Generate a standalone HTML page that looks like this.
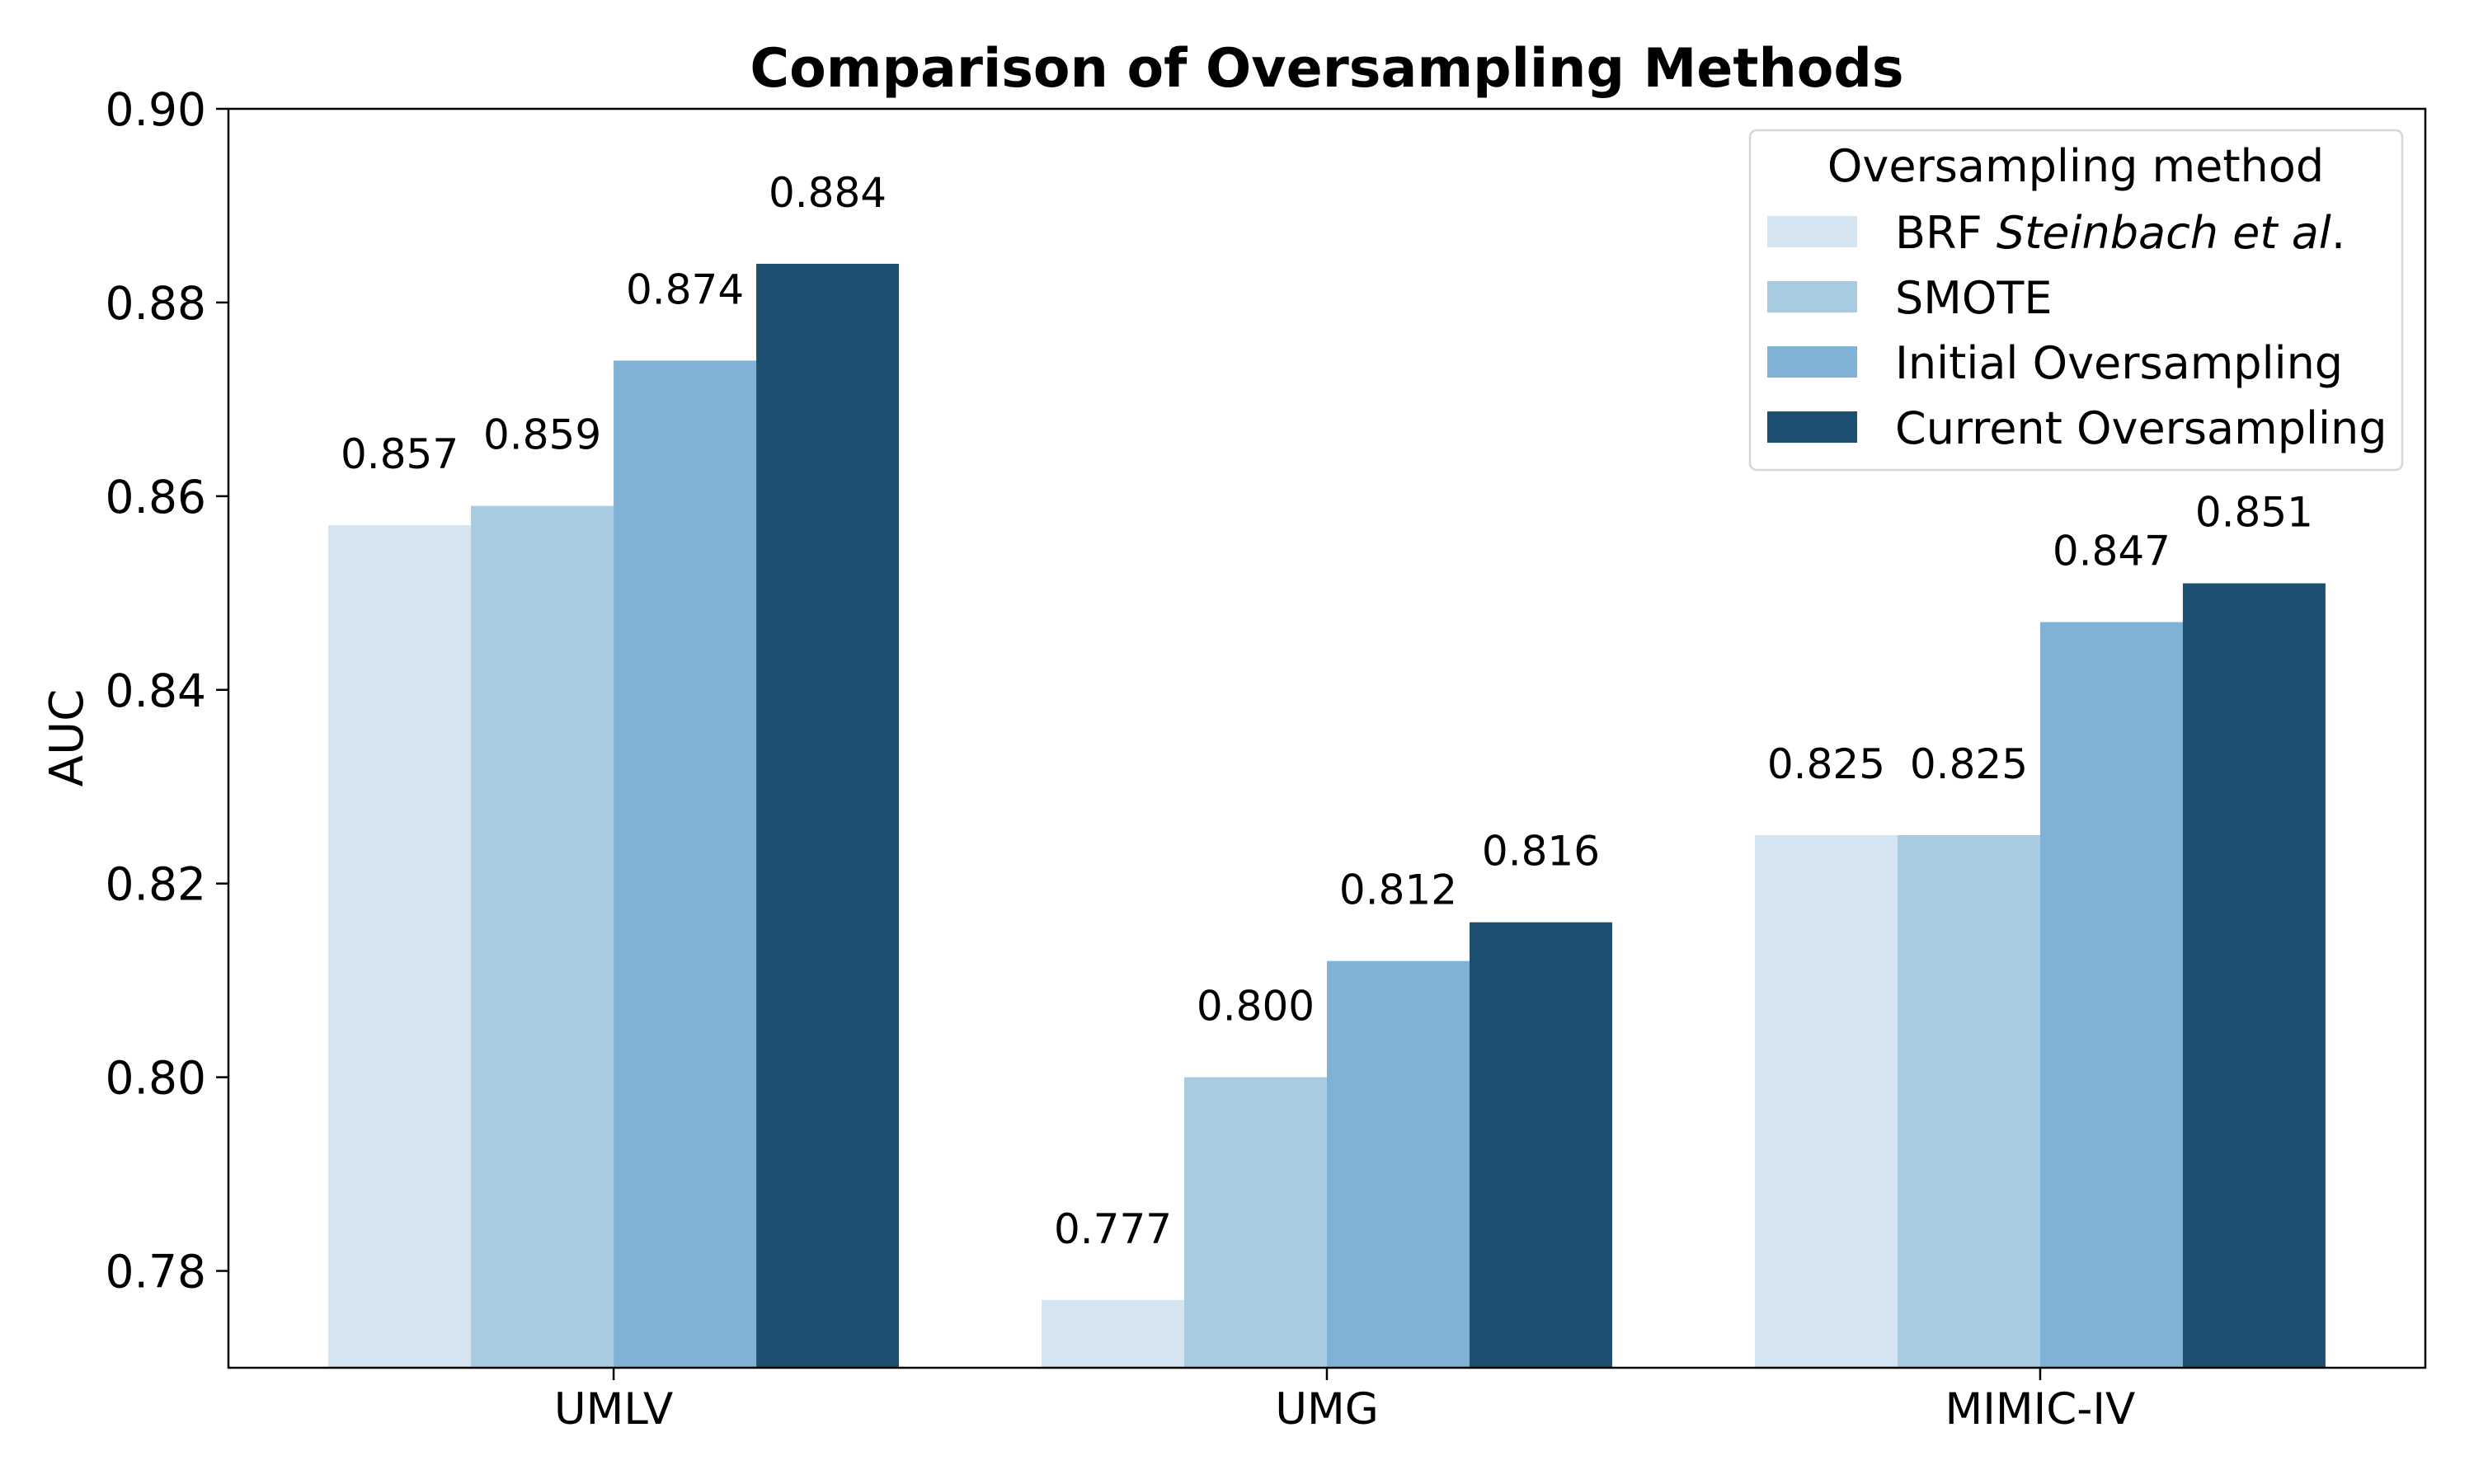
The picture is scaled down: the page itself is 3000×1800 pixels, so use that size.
<!DOCTYPE html>
<html><head><meta charset="utf-8"><style>
html,body{margin:0;padding:0;background:#fff;}
svg{display:block;font-family:"DejaVu Sans","Liberation Sans",sans-serif;}
</style></head><body>
<svg id="chart" width="3000" height="1800" viewBox="0 0 3000 1800">
<text x="1609" y="105" text-anchor="middle" font-size="65" font-weight="bold">Comparison of Oversampling Methods</text>
<text transform="translate(100,895) rotate(-90)" text-anchor="middle" font-size="56">AUC</text>
<g id="bars"></g><g id="labels"></g><g id="ticks"></g>
<rect x="277" y="132" width="2664" height="1527" fill="none" stroke="#000" stroke-width="2.5"/>
<g>
<rect x="2122" y="158" width="791" height="412" rx="8" fill="#fff" fill-opacity="0.8" stroke="#d6d6d6" stroke-width="2.5"/>
<text x="2517" y="220" text-anchor="middle" font-size="54">Oversampling method</text>
<g id="legend-items"></g>
</g>
</svg>
<script>
const categories = ["UMLV", "UMG", "MIMIC-IV"];
const seriesNames = ["BRF", "SMOTE", "Initial Oversampling", "Current Oversampling"];
const brf = [0.857, 0.777, 0.825];
const smote = [0.859, 0.800, 0.825];
const initial = [0.874, 0.812, 0.847];
const current = [0.884, 0.816, 0.851];
const yTicks = [0.78, 0.80, 0.82, 0.84, 0.86, 0.88, 0.90];

const series = [brf, smote, initial, current];
const colors = ["#d4e5f1", "#a9cbe1", "#7fb2d5", "#1c4f70"];
const NS = "http://www.w3.org/2000/svg";
const L = 277, R = 2941, T = 132, B = 1659;
const yMin = 0.77, yMax = 0.90, xMin = -0.54, xMax = 2.54;
function yS(v) { return T + (yMax - v) / (yMax - yMin) * (B - T); }
function xS(u) { return L + (u - xMin) / (xMax - xMin) * (R - L); }
function mk(tag, attrs, parent, text) {
  const e = document.createElementNS(NS, tag);
  for (const k in attrs) e.setAttribute(k, attrs[k]);
  if (text !== undefined) e.textContent = text;
  parent.appendChild(e);
  return e;
}
const gb = document.getElementById("bars"), gl = document.getElementById("labels"), gt = document.getElementById("ticks");
const bw = 0.2;
series.forEach((vals, s) => {
  vals.forEach((v, c) => {
    const u0 = c + (s - 1.5) * bw - bw / 2;
    const x0 = xS(u0), x1 = xS(u0 + bw);
    const r = mk("rect", {x: x0, y: yS(v), width: x1 - x0, height: B - yS(v), fill: colors[s]}, gb);
    
    
    const t = mk("text", {x: (x0 + x1) / 2, y: yS(v) - 69, "text-anchor": "middle", "font-size": "50"}, gl, v.toFixed(3));
    
    
  });
});
yTicks.forEach(v => {
  const y = yS(v);
  const l = mk("line", {x1: 262, x2: 277, y1: y, y2: y, stroke: "#000", "stroke-width": 2.5}, gt);
  
  
  const t = mk("text", {x: 250, y: y + 20, "text-anchor": "end", "font-size": "55"}, gt, v.toFixed(2));
  
  
});
categories.forEach((c, i) => {
  const x = xS(i);
  const l = mk("line", {x1: x, x2: x, y1: 1659, y2: 1674, stroke: "#000", "stroke-width": 2.5}, gt);
  
  
  const t = mk("text", {x: x, y: 1727, "text-anchor": "middle", "font-size": "53"}, gt, c);
  
  
});
const gli = document.getElementById("legend-items");
seriesNames.forEach((n, i) => {
  const yTop = 262 + i * 79;
  const r = mk("rect", {x: 2143, y: yTop, width: 109, height: 38, fill: colors[i]}, gli);
  
  
  const t = mk("text", {x: 2298, y: yTop + 39, "font-size": "54"}, gli);
  
  
  if (i === 0) {
    mk("tspan", {}, t, "BRF ");
    mk("tspan", {"font-style": "italic"}, t, "Steinbach et al");
    mk("tspan", {}, t, ".");
  } else {
    t.textContent = n;
  }
});
</script>
</body></html>
